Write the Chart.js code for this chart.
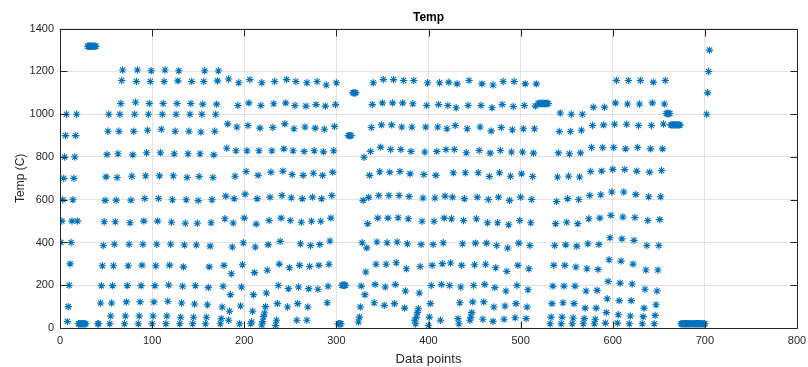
<!DOCTYPE html>
<html>
<head>
<meta charset="utf-8">
<title>Temp</title>
<script src="https://cdn.jsdelivr.net/npm/chart.js@4.4.1/dist/chart.umd.min.js"></script>
<style>
  html, body { margin: 0; padding: 0; background: #fff; }
  #wrap { width: 808px; height: 367px; }
</style>
</head>
<body>
<div id="wrap"><canvas id="tempChart" width="808" height="367"></canvas></div>
<script>
// Each run is a stretch of consecutive readings: first data point index + temperatures (C)
var runStarts = [
    1, 8, 19, 20, 30, 41, 44,
    54, 70, 85, 100, 115, 130, 144, 158,
    174, 183, 195, 207, 219, 234, 247, 257, 268, 280, 290,
    302, 306, 313, 318,
    324, 331, 341, 352, 363, 374, 385, 400, 413, 423, 432, 445, 459, 470, 482, 494, 506,
    519,
    532, 544, 556, 568, 580, 592, 605, 618, 632, 645,
    658, 663, 674, 702
];

var runTemps = [
    [400, 500, 600, 700, 800, 900, 1000],
    [30, 100, 200, 300, 400, 500, 600, 700, 800, 900, 1000],
    [500],
    [20, 20, 20, 20, 20, 20, 20, 20, 20],
    [1318, 1318, 1318, 1318, 1318, 1318, 1318, 1318, 1318, 1318],
    [20, 20],
    [117, 198, 291, 386, 497, 597, 707, 812, 920, 1000],

    [20, 56, 117, 198, 291, 392, 497, 598, 704, 815, 920, 1000, 1050, 1158, 1207],
    [20, 56, 122, 198, 291, 392, 492, 598, 710, 810, 920, 1000, 1056, 1153, 1207],
    [20, 56, 122, 198, 294, 392, 500, 606, 712, 820, 925, 1000, 1050, 1153, 1203],
    [20, 56, 122, 198, 291, 392, 500, 606, 712, 820, 930, 1000, 1050, 1153, 1207],
    [20, 56, 125, 201, 294, 392, 495, 600, 712, 815, 920, 1000, 1050, 1156, 1203],
    [20, 50, 117, 195, 286, 388, 490, 600, 704, 815, 920, 1000, 1050, 1153],
    [20, 50, 112, 198, 388, 490, 596, 709, 815, 917, 1000, 1047, 1153, 1203],
    [20, 50, 109, 190, 286, 383, 492, 600, 704, 810, 920, 1000, 1047, 1156, 1203],

    [20, 44, 98, 195, 293, 511, 617, 841, 955, 1165],
    [36, 78, 156, 254, 379, 491, 605, 710, 829, 940, 1041, 1147],
    [20, 103, 192, 296, 399, 514, 626, 732, 829, 947, 1053, 1162],
    [20, 28, 78, 156, 259, 379, 486, 605, 714, 829, 935, 1041, 1147],
    [14, 30, 53, 70, 100, 164, 270, 390, 503, 612, 729, 829, 938, 1049, 1153],
    [12, 36, 114, 199, 299, 405, 514, 620, 734, 838, 955, 1053, 1162],
    [98, 184, 282, 503, 609, 718, 829, 932, 1041, 1153],
    [36, 114, 192, 293, 394, 495, 605, 714, 826, 940, 1038, 1147],
    [36, 98, 184, 288, 386, 499, 612, 724, 829, 935, 1045, 1153],
    [181, 293, 391, 499, 605, 714, 824, 930, 1038, 1137],
    [118, 195, 298, 407, 514, 620, 729, 829, 943, 1045, 1147],

    [20, 20, 20, 20],
    [200, 200, 200, 200, 200],
    [900, 900, 900, 900],
    [1100, 1100, 1100, 1100],

    [28, 51, 98, 196, 399, 597, 799],
    [156, 262, 375, 488, 611, 714, 826, 938, 1045, 1147],
    [118, 204, 298, 402, 514, 620, 731, 846, 950, 1053, 1162],
    [106, 192, 298, 399, 514, 620, 729, 835, 950, 1053, 1162],
    [114, 203, 305, 402, 516, 620, 732, 835, 940, 1053, 1158],
    [93, 173, 277, 394, 511, 615, 721, 826, 940, 1049, 1158],
    [36, 20, 51, 72, 90, 164, 288, 391, 499, 608, 718, 823, 940, 1041, 1147],
    [12, 51, 114, 199, 293, 391, 499, 608, 714, 826, 940, 1045, 1147],
    [36, 203, 301, 399, 514, 617, 835, 932, 1041, 1150],
    [199, 304, 511, 612, 726, 835, 947, 1030, 1142],
    [44, 20, 118, 192, 293, 394, 503, 605, 726, 820, 932, 1041, 1158],
    [36, 51, 72, 122, 199, 296, 397, 511, 612, 726, 830, 940, 1041, 1142],
    [41, 122, 204, 298, 397, 492, 601, 709, 818, 922, 1030, 1137],
    [31, 98, 189, 282, 386, 492, 612, 726, 830, 938, 1045, 1153],
    [41, 103, 173, 265, 374, 483, 597, 710, 823, 927, 1036, 1153],
    [48, 114, 199, 293, 397, 503, 612, 721, 823, 932, 1041, 1142],
    [44, 98, 179, 277, 386, 492, 601, 709, 818, 932, 1038, 1142],

    [1050, 1050, 1050, 1050, 1050, 1050, 1050, 1050, 1050, 1050, 1050, 1050],

    [20, 51, 114, 196, 293, 386, 488, 592, 706, 819, 919, 1006],
    [20, 51, 118, 196, 293, 389, 495, 605, 710, 815, 919, 1000],
    [20, 47, 114, 196, 285, 383, 488, 601, 706, 819, 925, 1000],
    [20, 44, 93, 173, 277, 394, 511, 620, 732, 844, 947, 1033],
    [20, 41, 93, 176, 274, 391, 514, 623, 734, 844, 950, 1033],
    [23, 72, 137, 218, 319, 422, 527, 636, 742, 844, 953, 1053, 1158],
    [23, 62, 128, 210, 313, 417, 519, 636, 741, 838, 953, 1048, 1158],
    [20, 56, 128, 206, 299, 410, 517, 625, 734, 844, 947, 1048, 1158],
    [20, 53, 93, 181, 271, 386, 503, 614, 729, 838, 947, 1053, 1150],
    [20, 59, 109, 173, 271, 386, 507, 614, 737, 838, 954, 1048, 1158],

    [1003, 1003, 1003, 1003, 1003],
    [950, 950, 950, 950, 950, 950, 950, 950, 950, 950, 950],
    [20, 20, 20, 20, 20, 20, 20, 20, 20, 20, 20, 20, 20, 20, 20, 20, 20, 20, 20, 20, 20, 20, 20, 20, 20, 20, 20],
    [1000, 1100, 1200, 1300]
];

var xTicks = [0, 100, 200, 300, 400, 500, 600, 700, 800];
var yTicks = [0, 200, 400, 600, 800, 1000, 1200, 1400];

var FONT = "'Liberation Sans', Arial, Helvetica, sans-serif";
var AXIS_COLOR = "#262626";

// flatten the runs into (index, temp) pairs
var points = [];
runStarts.forEach(function (start, r) {
    runTemps[r].forEach(function (t, i) {
        points.push({ x: start + i, y: t });
    });
});

// box round the axes and the short inward ticks on all four sides
var axesBox = {
    id: "axesBox",
    afterDraw: function (chart) {
        var ctx = chart.ctx;
        var a = chart.chartArea;
        var xs = chart.scales.x;
        var ys = chart.scales.y;
        var L = Math.round(a.left) + 0.5;
        var R = Math.round(a.right) + 0.5;
        var T = Math.round(a.top) + 0.5;
        var B = Math.round(a.bottom) + 0.5;
        var len = 7;

        ctx.save();
        ctx.strokeStyle = AXIS_COLOR;
        ctx.lineWidth = 1;
        ctx.beginPath();
        ctx.rect(L, T, R - L, B - T);
        xTicks.forEach(function (v) {
            var px = Math.round(xs.getPixelForValue(v)) + 0.5;
            ctx.moveTo(px, B);
            ctx.lineTo(px, B - len);
            ctx.moveTo(px, T);
            ctx.lineTo(px, T + len);
        });
        yTicks.forEach(function (v) {
            var py = Math.round(ys.getPixelForValue(v)) + 0.5;
            ctx.moveTo(L, py);
            ctx.lineTo(L + len, py);
            ctx.moveTo(R, py);
            ctx.lineTo(R - len, py);
        });
        ctx.stroke();
        ctx.restore();
    }
};

function plainNumber(value) {
    return String(value);
}

var ctx = document.getElementById("tempChart").getContext("2d");

new Chart(ctx, {
    type: "scatter",
    data: {
        datasets: [
            {
                label: "Temp",
                data: points,
                showLine: false,
                pointStyle: "star",
                pointRadius: 3.7,
                pointBorderWidth: 1.1,
                borderColor: "#0072BD",
                backgroundColor: "#0072BD",
            },
        ],
    },
    options: {
        responsive: false,
        animation: false,
        devicePixelRatio: 1,
        layout: {
            padding: { left: 0, right: 11, top: 0, bottom: 0 },
        },
        plugins: {
            legend: { display: false },
            tooltip: { enabled: false },
            title: {
                display: true,
                text: "Temp",
                fullSize: false,
                color: "#000",
                font: { family: FONT, size: 12, weight: "bold" },
                padding: { top: 10, bottom: 4.3 },
            },
        },
        scales: {
            x: {
                type: "linear",
                min: 0,
                max: 800,
                afterFit: function (scale) {
                    scale.height = 39;
                    scale.paddingLeft = 0;
                    scale.paddingRight = 0;
                },
                afterBuildTicks: function (scale) {
                    scale.ticks = xTicks.map(function (v) {
                        return { value: v };
                    });
                },
                ticks: {
                    color: AXIS_COLOR,
                    font: { family: FONT, size: 11 },
                    padding: 6,
                    maxRotation: 0,
                    callback: plainNumber,
                },
                grid: {
                    color: "#e3e3e3",
                    lineWidth: 1,
                    drawTicks: false,
                },
                border: { display: false },
                title: {
                    display: true,
                    text: "Data points",
                    color: AXIS_COLOR,
                    font: { family: FONT, size: 13 },
                    padding: { top: 0, bottom: 0 },
                },
            },
            y: {
                type: "linear",
                min: 0,
                max: 1400,
                afterFit: function (scale) {
                    scale.width = 60;
                    scale.paddingTop = 0;
                    scale.paddingBottom = 0;
                },
                afterBuildTicks: function (scale) {
                    scale.ticks = yTicks.map(function (v) {
                        return { value: v };
                    });
                },
                ticks: {
                    color: AXIS_COLOR,
                    font: { family: FONT, size: 11 },
                    padding: 6,
                    callback: plainNumber,
                },
                grid: {
                    color: "#e3e3e3",
                    lineWidth: 1,
                    drawTicks: false,
                },
                border: { display: false },
                title: {
                    display: true,
                    text: "Temp (C)",
                    color: AXIS_COLOR,
                    font: { family: FONT, size: 12 },
                    padding: { top: 13, bottom: 0 },
                },
            },
        },
    },
    plugins: [axesBox],
});
</script>
</body>
</html>
